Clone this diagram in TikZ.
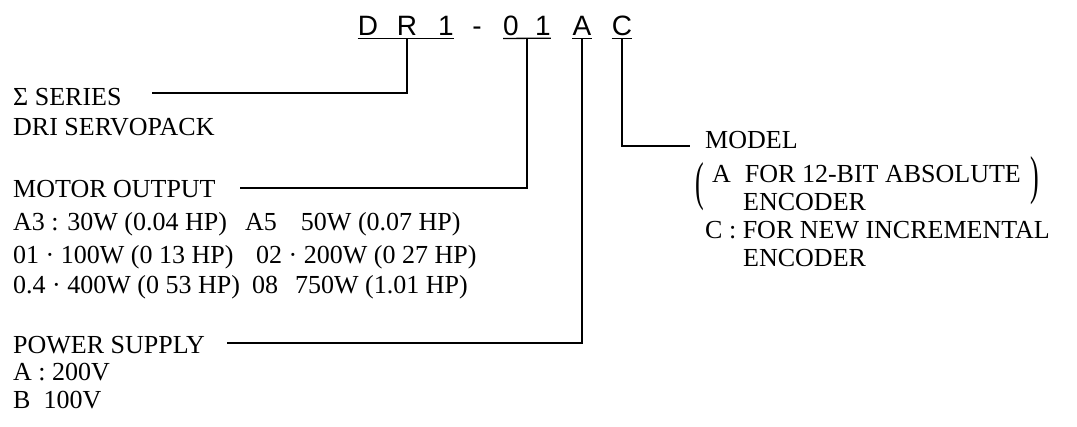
\documentclass[tikz,border=0pt]{standalone}
\usepackage{fontspec}
\usepackage{graphicx}
\setmainfont{Liberation Serif}
\newfontfamily\codefont{Liberation Sans}
\usetikzlibrary{calc}

\newcommand\lblsize{\fontsize{26}{30}\selectfont}
\newcommand\codesize{\codefont\fontsize{28}{32}\selectfont}

\begin{document}
\begin{tikzpicture}[
    x=1pt, y=-1pt,
    lbl/.style={anchor=base west, inner sep=0pt, font=\lblsize},
    code/.style={anchor=base, inner sep=0pt, font=\codesize},
    lead/.style={line width=1.3pt},
    paren/.style={inner sep=0pt, font=\lblsize}
]

%Background
\useasboundingbox (0,0) rectangle (1077,426);

% Type code
\node[code] (cD) at (368,35) {D};
\node[code] (cR) at (407,35) {R};
\node[code] (c1) at (446,35) {1};
\node[code] (cdash) at (477,35) {-};
\node[code] (c0) at (511,35) {0};
\node[code] (c01) at (543,35) {1};
\node[code] (cA) at (582,35) {A};
\node[code] (cC) at (622,35) {C};

% Underlines
\draw[lead] ([yshift=-3pt]cD.south west) -- ([yshift=-3pt]c1.south east);
\draw[lead] ([yshift=-3pt]c0.south west) -- ([yshift=-3pt]c01.south east);
\draw[lead] ([yshift=-3pt]cA.south west) -- ([yshift=-3pt]cA.south east);
\draw[lead] ([yshift=-3pt]cC.south west) -- ([yshift=-3pt]cC.south east);

\coordinate (tapR) at ([yshift=-3pt]cR.south);
\coordinate (tap01) at ($([yshift=-3pt]c0.south)!.5!([yshift=-3pt]c01.south)$);
\coordinate (tapA) at ([yshift=-3pt]cA.south);
\coordinate (tapC) at ([yshift=-3pt]cC.south);

% Series
\node[lbl] (series) at (13,105) {Σ SERIES};
\node[lbl] (servopack) at (13,135) {DRI SERVOPACK};
\coordinate (seriesend) at (152,93);

% Motor output
\node[lbl] (motor) at (13,197) {MOTOR OUTPUT};
\node[lbl] (rowA3) at (13,230) {A3 : 30W (0.04 HP)};
\node[lbl] (rowA5) at (245,230) {A5\hspace{24pt}50W (0.07 HP)};
\node[lbl] (row01) at (13,263) {01 · 100W (0 13 HP)};
\node[lbl] (row02) at (256,263) {02 · 200W (0 27 HP)};
\node[lbl] (row04) at (13,293) {0.4 · 400W (0 53 HP)};
\node[lbl] (row08) at (252,293) {08\hspace{17pt}750W (1.01 HP)};
\coordinate (motorend) at (240,188);

% Power supply
\node[lbl] (power) at (13,353) {POWER SUPPLY};
\node[lbl] (volt200) at (13,380) {A : 200V};
\node[lbl] (volt100) at (13,408) {B\hspace{13pt}100V};
\coordinate (powerend) at (227,343);

% Model
\node[lbl] (model) at (705,148) {MODEL};
\node[lbl] (absline) at (712,182) {A\hspace{14pt}FOR 12-BIT ABSOLUTE};
\node[lbl] (absenc) at (743,210) {ENCODER};
\node[lbl] (incline) at (705,238) {C : FOR NEW INCREMENTAL};
\node[lbl] (incenc) at (743,266) {ENCODER};
\node[paren] (lpar) at (700,187) {\scalebox{1}[2.05]{(}};
\node[paren] (rpar) at (1035,181) {\scalebox{1}[2.05]{)}};
\coordinate (modelend) at (690,146);

% Leads
\draw[lead] (tapR) |- (seriesend);
\draw[lead] (tap01) |- (motorend);
\draw[lead] (tapA) |- (powerend);
\draw[lead] (tapC) |- (modelend);

\end{tikzpicture}
\end{document}
